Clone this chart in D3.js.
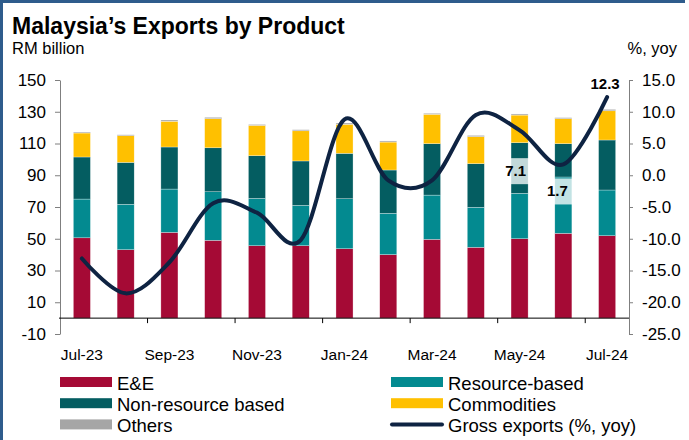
<!DOCTYPE html>
<html>
<head>
<meta charset="utf-8">
<script src="https://cdn.jsdelivr.net/npm/d3@7"></script>
<style>
  html, body { margin: 0; padding: 0; background: #fff; }
  text { font-family: "Liberation Sans", Arial, sans-serif; fill: #000; }
</style>
</head>
<body>
<svg class="chart"></svg>
<script>
// months on the x axis
var months = ["Jul-23", "Aug-23", "Sep-23", "Oct-23", "Nov-23", "Dec-23", "Jan-24",
              "Feb-24", "Mar-24", "Apr-24", "May-24", "Jun-24", "Jul-24"];

// RM billion, stacked
var eAndE       = [50.6, 43.1, 54.0, 49.0, 45.6, 45.6, 43.7, 40.0, 49.6, 44.6, 50.0, 53.4, 51.9];
var resource    = [24.4, 28.6, 27.3, 30.6, 29.8, 25.4, 31.5, 26.0, 27.9, 25.2, 28.6, 35.5, 28.8];
var nonResource = [26.5, 26.4, 26.5, 27.7, 26.9, 28.0, 28.6, 27.3, 32.4, 27.5, 31.9, 21.0, 31.5];
var commodities = [15.1, 16.8, 16.2, 18.3, 19.1, 19.0, 18.3, 17.6, 18.5, 17.0, 17.4, 15.7, 18.4];
var others      = [0.6, 0.6, 0.8, 0.9, 0.6, 0.7, 0.8, 0.7, 0.6, 0.8, 0.7, 0.7, 0.9];

// gross exports, % yoy (right axis)
var grossYoy = [-13.1, -18.6, -13.7, -4.4, -5.9, -10.2, 8.8, -0.8, -0.8, 9.5, 7.1, 1.7, 12.3];

var leftTicks  = [-10, 10, 30, 50, 70, 90, 110, 130, 150];
var rightTicks = [-25, -20, -15, -10, -5, 0, 5, 10, 15];

var series = [
    { name: "E&E",                 values: eAndE,       color: "#a50a35" },
    { name: "Resource-based",      values: resource,    color: "#038a90" },
    { name: "Non-resource based",  values: nonResource, color: "#045d61" },
    { name: "Commodities",         values: commodities, color: "#ffc000" },
    { name: "Others",              values: others,      color: "#a6a6a6" }
];
var lineColor = "#0e2342";

var width = 689, height = 440;
var svg = d3.select(".chart").attr("width", width).attr("height", height);

var plot = { left: 60, right: 629, top: 80, bottom: 334 };

var x = d3.scaleBand()
    .domain(months)
    .range([plot.left, plot.right])
    .paddingInner(0.61)
    .paddingOuter(0.305);

var y = d3.scaleLinear().domain([-10, 150]).range([plot.bottom, plot.top]);
var y2 = d3.scaleLinear().domain([-25, 15]).range([plot.bottom, plot.top]);

// frame
svg.append("line").attr("x1", 0).attr("x2", 685).attr("y1", 1.5).attr("y2", 1.5)
    .attr("stroke", "#2e5c8c").attr("stroke-width", 3);
svg.append("line").attr("x1", 1.5).attr("x2", 1.5).attr("y1", 0).attr("y2", height)
    .attr("stroke", "#2e5c8c").attr("stroke-width", 3);

// titles
svg.append("text").attr("x", 12).attr("y", 34)
    .style("font-size", "23px").style("font-weight", "bold")
    .text("Malaysia\u2019s Exports by Product");
svg.append("text").attr("x", 12).attr("y", 54)
    .style("font-size", "16.5px")
    .text("RM billion");
svg.append("text").attr("x", 677).attr("y", 54)
    .attr("text-anchor", "end")
    .style("font-size", "16.5px")
    .text("%, yoy");

// stacked bars
var stackData = months.map(function(m, i) {
    var row = { month: m };
    series.forEach(function(s) { row[s.name] = s.values[i]; });
    return row;
});
var stacked = d3.stack().keys(series.map(function(s) { return s.name; }))(stackData);

svg.append("g").selectAll("g")
    .data(stacked)
    .enter().append("g")
    .attr("fill", function(d, i) { return series[i].color; })
    .selectAll("rect")
    .data(function(d) { return d; })
    .enter().append("rect")
    .attr("x", function(d) { return x(d.data.month); })
    .attr("width", x.bandwidth())
    .attr("y", function(d) { return y(d[1]); })
    .attr("height", function(d) { return y(d[0]) - y(d[1]); })
    .attr("stroke", "#ffffff")
    .attr("stroke-opacity", 0.6)
    .attr("stroke-width", 0.5);

// left axis
var leftAxis = svg.append("g")
    .attr("transform", "translate(" + plot.left + ",0)")
    .call(d3.axisLeft(y).tickValues(leftTicks).tickSize(5).tickSizeOuter(0).tickPadding(9)
        .tickFormat(function(d) { return String(d); }));
leftAxis.select(".domain").attr("stroke", "#7f7f7f");
leftAxis.selectAll(".tick line").attr("stroke", "#7f7f7f");
leftAxis.selectAll("text").style("font-size", "17px").attr("fill", "#000");

// right axis
var rightAxis = svg.append("g")
    .attr("transform", "translate(" + plot.right + ",0)")
    .call(d3.axisRight(y2).tickValues(rightTicks).tickSize(4).tickSizeOuter(0).tickPadding(9)
        .tickFormat(function(d) { return d.toFixed(1); }));
rightAxis.select(".domain").attr("stroke", "#7f7f7f");
rightAxis.selectAll(".tick line").attr("stroke", "#7f7f7f");
rightAxis.selectAll("text").style("font-size", "17px").attr("fill", "#000");

// x axis at zero
var gap = (x.step() - x.bandwidth()) / 2;
svg.append("line")
    .attr("x1", plot.left - 1).attr("x2", plot.right)
    .attr("y1", y(0)).attr("y2", y(0))
    .attr("stroke", "#000").attr("stroke-width", 1);
svg.append("g").selectAll("line")
    .data(months.filter(function(m, i) { return i > 0 && i % 2 === 0; }))
    .enter().append("line")
    .attr("x1", function(d) { return x(d) - gap; })
    .attr("x2", function(d) { return x(d) - gap; })
    .attr("y1", y(0)).attr("y2", y(0) + 5)
    .attr("stroke", "#000");

svg.append("g").selectAll("text")
    .data(months.filter(function(m, i) { return i % 2 === 0; }))
    .enter().append("text")
    .attr("x", function(d) { return x(d) + x.bandwidth() / 2; })
    .attr("y", 360)
    .attr("text-anchor", "middle")
    .style("font-size", "15.5px")
    .text(function(d) { return d; });

// gross exports line
var line = d3.line()
    .x(function(d, i) { return x(months[i]) + x.bandwidth() / 2; })
    .y(function(d) { return y2(d); })
    .curve(d3.curveCardinal.tension(0));

svg.append("path")
    .datum(grossYoy)
    .attr("d", line)
    .attr("fill", "none")
    .attr("stroke", lineColor)
    .attr("stroke-width", 4)
    .attr("stroke-linecap", "round")
    .attr("stroke-linejoin", "round");

// data labels on the last three points
var labelSpots = [
    { i: 10, dx: -4, dy: 46, box: true },
    { i: 11, dx: -6, dy: 32, box: true },
    { i: 12, dx: -2, dy: -8, box: false }
];
labelSpots.forEach(function(s) {
    var cx = x(months[s.i]) + x.bandwidth() / 2 + s.dx;
    var by = y2(grossYoy[s.i]) + s.dy;
    if (s.box) {
        svg.append("rect")
            .attr("x", cx - 16).attr("y", by - 18)
            .attr("width", 32).attr("height", 26)
            .attr("fill", "#ffffff").attr("fill-opacity", 0.76);
    }
    svg.append("text")
        .attr("x", cx).attr("y", by)
        .attr("text-anchor", "middle")
        .style("font-size", "15px")
        .style("font-weight", "bold")
        .text(grossYoy[s.i].toFixed(1));
});

// legend
var legendItems = [
    { name: "E&E",                      color: series[0].color, kind: "bar" },
    { name: "Resource-based",           color: series[1].color, kind: "bar" },
    { name: "Non-resource based",       color: series[2].color, kind: "bar" },
    { name: "Commodities",              color: series[3].color, kind: "bar" },
    { name: "Others",                   color: series[4].color, kind: "bar" },
    { name: "Gross exports (%, yoy)",   color: lineColor,       kind: "line" }
];
var legend = svg.append("g").selectAll("g")
    .data(legendItems)
    .enter().append("g")
    .attr("transform", function(d, i) {
        var col = i % 2, row = Math.floor(i / 2);
        return "translate(" + (col === 0 ? 60 : 391) + "," + (377 + row * 21.2) + ")";
    });
legend.each(function(d) {
    var g = d3.select(this);
    if (d.kind === "bar") {
        g.append("rect").attr("x", 0).attr("y", 0).attr("width", 52).attr("height", 10).attr("fill", d.color);
    } else {
        g.append("line").attr("x1", 1).attr("x2", 51).attr("y1", 5).attr("y2", 5)
            .attr("stroke", d.color).attr("stroke-width", 4).attr("stroke-linecap", "round");
    }
    g.append("text").attr("x", 57).attr("y", 12.5)
        .style("font-size", "18.5px")
        .text(d.name);
});
</script>
</body>
</html>
